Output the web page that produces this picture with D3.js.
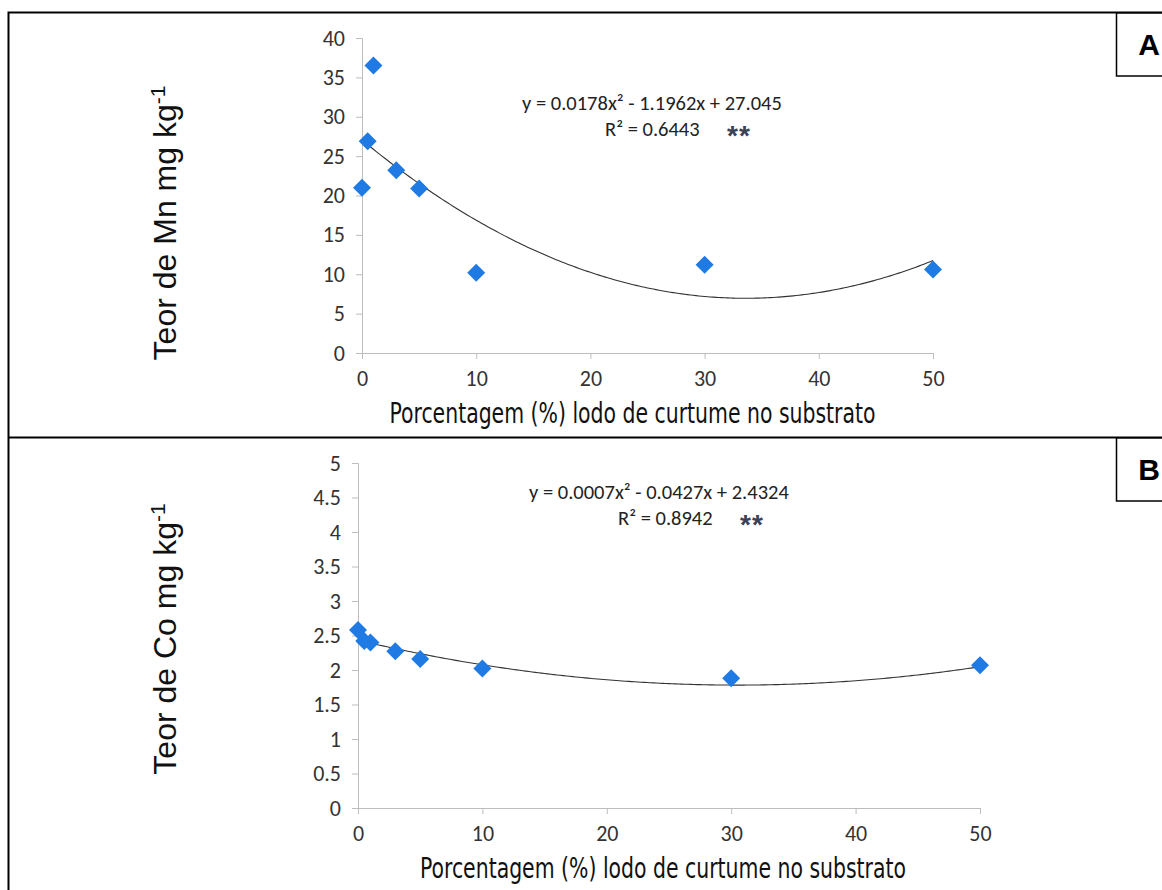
<!DOCTYPE html>
<html>
<head>
<meta charset="utf-8">
<script src="https://cdn.jsdelivr.net/npm/d3@7"></script>
<style>
  body { margin: 0; background: #fff; }
  svg { display: block; }
</style>
</head>
<body>
<div id="chart"></div>
<script>
// sludge percentage in the substrate (shared by both panels)
var pctSubstrate = [0, 0.5, 1, 3, 5, 10, 30, 50];

// panel A - Mn (mg kg-1)
var mnValues = [21.0, 26.9, 36.5, 23.2, 20.9, 10.2, 11.2, 10.6];
var mnFit = [0.0178, -1.1962, 27.045];   // a, b, c of the trendline
var mnTicks = [0, 5, 10, 15, 20, 25, 30, 35, 40];

// panel B - Co (mg kg-1)
var coValues = [2.58, 2.42, 2.40, 2.27, 2.16, 2.02, 1.88, 2.07];
var coFit = [0.0007, -0.0427, 2.4324];
var coTicks = [0, 0.5, 1, 1.5, 2, 2.5, 3, 3.5, 4, 4.5, 5];

var xTicks = [0, 10, 20, 30, 40, 50];

var width = 1162, height = 890;
var tickFont = "Carlito, Lato, sans-serif";
var blue = "#1f7be3";

var svg = d3.select("#chart")
    .append("svg")
    .attr("width", width)
    .attr("height", height);

// outer frame and divider
svg.append("path")
    .attr("d", "M8.5,900 V12.5 H1170")
    .attr("fill", "none")
    .attr("stroke", "#000")
    .attr("stroke-width", 2);
svg.append("line")
    .attr("x1", 8).attr("x2", 1170)
    .attr("y1", 437.5).attr("y2", 437.5)
    .attr("stroke", "#000")
    .attr("stroke-width", 2);

var drawPanel = function(p) {
    var g = svg.append("g");

    var x = d3.scaleLinear().domain([0, 50]).range([p.left, p.right]);
    var y = d3.scaleLinear().domain(p.yDomain).range([p.bottom, p.top]);

    // letter box
    g.append("rect")
        .attr("x", 1116.5).attr("y", p.boxTop)
        .attr("width", 60).attr("height", 63)
        .attr("fill", "#fff")
        .attr("stroke", "#000")
        .attr("stroke-width", 1.5);
    g.append("text")
        .attr("x", 1149).attr("y", p.boxTop + 42)
        .attr("text-anchor", "middle")
        .attr("font-family", "Liberation Sans, Arial, sans-serif")
        .attr("font-weight", "bold")
        .attr("font-size", "30px")
        .text(p.letter);

    var xAxis = g.append("g")
        .attr("transform", "translate(0," + p.bottom + ")")
        .call(d3.axisBottom(x).tickValues(xTicks).tickSize(6).tickPadding(11));
    var yAxis = g.append("g")
        .attr("transform", "translate(" + p.left + ",0)")
        .call(d3.axisLeft(y).tickValues(p.yTicks).tickSize(6).tickPadding(11)
            .tickFormat(function(d){ return String(d); }));

    [xAxis, yAxis].forEach(function(ax) {
        ax.select(".domain").attr("stroke", "#bdbdbd");
        ax.selectAll(".tick line").attr("stroke", "#bdbdbd");
        ax.selectAll(".tick text")
            .attr("fill", "#333")
            .attr("font-family", tickFont)
            .attr("font-size", "22px");
    });

    // trendline from the fitted coefficients
    var curve = d3.range(0, 50.25, 0.25).map(function(v) {
        return [v, p.fit[0] * v * v + p.fit[1] * v + p.fit[2]];
    });
    g.append("path")
        .datum(curve)
        .attr("fill", "none")
        .attr("stroke", "#333")
        .attr("stroke-width", 1.1)
        .attr("d", d3.line()
            .x(function(d){ return x(d[0]); })
            .y(function(d){ return y(d[1]); }));

    // diamonds
    g.selectAll(".pt")
        .data(p.values)
        .enter()
        .append("path")
        .attr("class", "pt")
        .attr("transform", function(d, i){ return "translate(" + x(pctSubstrate[i]) + "," + y(d) + ")"; })
        .attr("d", "M0,-9 L9,0 L0,9 L-9,0 Z")
        .attr("fill", blue);

    // equation and R2
    g.append("text")
        .attr("x", p.eqX).attr("y", p.eqY)
        .attr("font-family", tickFont)
        .attr("font-size", "20.5px")
        .attr("fill", "#222")
        .text(p.eq);
    g.append("text")
        .attr("x", p.r2X).attr("y", p.eqY + 26)
        .attr("font-family", tickFont)
        .attr("font-size", "20.5px")
        .attr("fill", "#222")
        .text(p.r2);
    g.append("text")
        .attr("x", p.starX).attr("y", p.eqY + 35)
        .attr("font-family", "Liberation Sans, Arial, sans-serif")
        .attr("font-weight", "bold")
        .attr("font-size", "28px")
        .attr("letter-spacing", "1px")
        .attr("fill", "#3a4258")
        .text("**");

    // axis titles
    g.append("text")
        .attr("x", (p.left + p.right) / 2 + p.xTitleShift)
        .attr("y", p.bottom + 70)
        .attr("text-anchor", "middle")
        .attr("font-family", "Liberation Sans Narrow, Arial Narrow, DejaVu Sans Condensed, sans-serif")
        .attr("font-size", "28px")
        .attr("fill", "#111")
        .attr("textLength", 486)
        .attr("lengthAdjust", "spacingAndGlyphs")
        .text("Porcentagem (%) lodo de curtume no substrato");

    var yt = g.append("text")
        .attr("transform", "translate(176," + p.yTitleMid + ") rotate(-90)")
        .attr("text-anchor", "middle")
        .attr("font-family", "Liberation Sans, Arial, sans-serif")
        .attr("font-size", "32px")
        .attr("fill", "#111");
    yt.append("tspan").text(p.yTitle + " mg kg");
    yt.append("tspan").attr("font-size", "21px").attr("dy", "-11").text("-1");
};

drawPanel({
    letter: "A", boxTop: 13,
    left: 362, right: 933, top: 38, bottom: 353,
    yDomain: [0, 40], yTicks: mnTicks,
    values: mnValues, fit: mnFit,
    eq: "y = 0.0178x\u00b2 - 1.1962x + 27.045", eqX: 522, eqY: 110,
    r2: "R\u00b2 = 0.6443", r2X: 605, starX: 727,
    xTitleShift: -15, yTitle: "Teor de Mn", yTitleMid: 223
});

drawPanel({
    letter: "B", boxTop: 438,
    left: 358, right: 980, top: 463, bottom: 808,
    yDomain: [0, 5], yTicks: coTicks,
    values: coValues, fit: coFit,
    eq: "y = 0.0007x\u00b2 - 0.0427x + 2.4324", eqX: 529, eqY: 499,
    r2: "R\u00b2 = 0.8942", r2X: 618, starX: 740,
    xTitleShift: -6, yTitle: "Teor de Co", yTitleMid: 639
});
</script>
</body>
</html>
